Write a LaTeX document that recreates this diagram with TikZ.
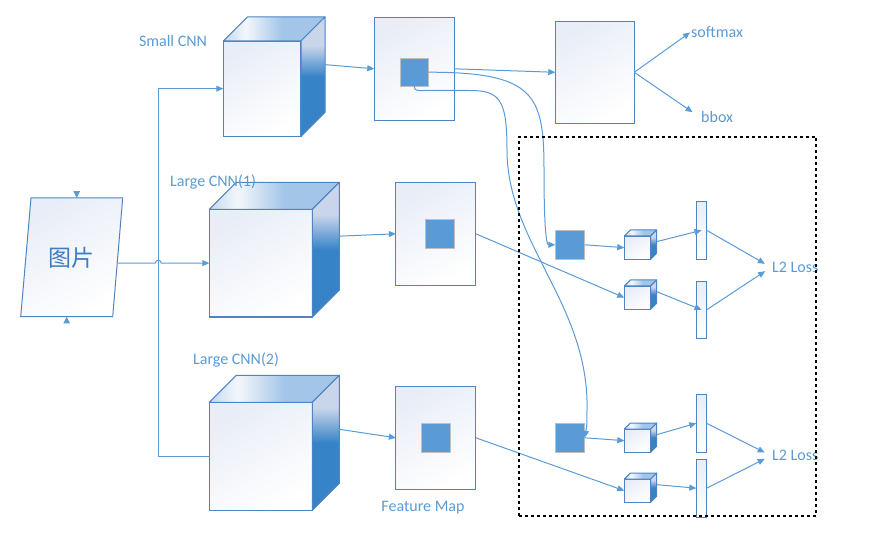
\documentclass[tikz,border=0pt]{standalone}
\usepackage{fontspec}
\setmainfont{Carlito}
\newfontfamily\cjkfont{Noto Sans CJK SC}
\usepackage{xcolor}
\usetikzlibrary{arrows.meta}

\definecolor{linecol}{HTML}{5B9BD5}
\definecolor{framecol}{HTML}{4F84C4}
\definecolor{facecol}{HTML}{E8EDF7}
\definecolor{sidedark}{HTML}{3783C8}
\definecolor{sidelight}{HTML}{C9D5EA}
\definecolor{topblue}{HTML}{A2C5E8}
\definecolor{toplight}{HTML}{F4F7FC}
\definecolor{topedge}{HTML}{C4D8EE}
\definecolor{roicol}{HTML}{5B9BD5}
\definecolor{roiedge}{HTML}{BFBFBF}
\definecolor{textcol}{HTML}{5B9BD5}
\definecolor{imgtext}{HTML}{3F7DC2}

\pgfdeclareverticalshading{cubeside}{100bp}{color(0bp)=(sidedark); color(25bp)=(sidedark); color(50bp)=(sidedark); color(63bp)=(sidelight); color(75bp)=(sidelight); color(100bp)=(sidelight)}
\pgfdeclarehorizontalshading{cubetop}{100bp}{color(0bp)=(topedge); color(25bp)=(topedge); color(36bp)=(toplight); color(54bp)=(topblue); color(75bp)=(topblue); color(100bp)=(topblue)}

% block: name, x, y (front top left), width, height, depth
\newcommand{\cnnblock}[6]{%
  \node[cubefront, minimum width=#4pt, minimum height=#5pt, anchor=north west] (#1) at (#2,#3) {};
  \shade[shading=cubetop, draw=framecol, line width=1pt, line join=round] (#1.north west) -- ++(#6,-#6) -- ++(#4,0) -- (#1.north east) -- cycle;
  \shade[shading=cubeside, draw=framecol, line width=1pt, line join=round] (#1.north east) -- ++(#6,-#6) -- ++(0,#5) -- (#1.south east) -- cycle;
  \path (#1.east) ++(#6,-#6) coordinate (#1 back);
}

\begin{document}
\begin{tikzpicture}[x=1pt,y=-1pt]
	\tikzstyle{cubefront}=[draw=framecol, line width=1.1pt, top color=facecol, bottom color=white, shading angle=30, inner sep=0pt, outer sep=0pt]
	\tikzstyle{fmap}=[draw=framecol, line width=1.1pt, top color=facecol, bottom color=white, shading angle=30, inner sep=0pt, outer sep=0pt, minimum width=80pt, minimum height=103pt]
	\tikzstyle{roi}=[draw=roiedge, line width=1.1pt, fill=roicol, minimum size=28pt, inner sep=0pt, outer sep=0pt]
	\tikzstyle{fcbar}=[draw=framecol, line width=1.1pt, top color=facecol, bottom color=white, minimum width=10.4pt, minimum height=58pt, inner sep=0pt, outer sep=0pt]
	\tikzstyle{lbl}=[text=textcol, font=\fontsize{16}{19}\selectfont, inner sep=1pt]
	\tikzstyle{conn}=[draw=linecol, line width=1pt, -{Triangle[length=7pt,width=6pt]}]

	\useasboundingbox (0,0) rectangle (881,545);

	% input image
	\shade[draw=framecol, line width=1pt, top color=facecol, bottom color=white, shading angle=30]
	      (31,198) -- (122.7,198) -- (112.7,316.7) -- (20.7,316.7) -- cycle;
	\node[minimum width=92pt, minimum height=118.7pt, inner sep=0pt, outer sep=0pt,
	      text=imgtext, font=\cjkfont\fontsize{23}{26}\selectfont] (img) at (71.7,257.3) {图片};
	\fill[linecol] ([xshift=5pt]img.north) -- ++(-3.3,-6.7) -- ++(6.6,0) -- cycle;
	\fill[linecol] ([xshift=-5pt]img.south) -- ++(-3.3,6.7) -- ++(6.6,0) -- cycle;

	% feature maps
	\node[fmap] (f1) at (414.3,68.8) {};
	\node[fmap] (f2) at (435.9,233.8) {};
	\node[fmap] (f3) at (435.9,437.8) {};
	\node[fmap, minimum width=79pt, minimum height=102pt] (fc) at (594.8,72.3) {};

	\node[roi] (r1) at (414.3,72.2) {};
	\node[roi, minimum size=29pt] (r2) at (440,233.8) {};
	\node[roi, minimum size=29pt] (r3) at (436.2,437.8) {};
	\node[roi, minimum size=29.4pt] (r4) at (570,244.8) {};
	\node[roi, minimum size=29.4pt] (r5) at (570,437.8) {};

	% networks
	\cnnblock{c1}{223.3}{41}{77.7}{95.3}{24}
	\cnnblock{c2}{209.3}{209.3}{103}{107.7}{27}
	\cnnblock{c3}{209.3}{402.3}{103}{108}{27}
	\cnnblock{sa}{624.3}{236}{26.4}{23.3}{6}
	\cnnblock{sb}{624.3}{286}{26.4}{23.3}{6}
	\cnnblock{sc}{624.3}{429}{26.4}{23.3}{6}
	\cnnblock{sd}{624.3}{479}{26.4}{23.3}{6}

	\node[fcbar] (b1) at (701.5,230.3) {};
	\node[fcbar, minimum height=57pt] (b2) at (701.5,309.8) {};
	\node[fcbar] (b3) at (701.5,423.3) {};
	\node[fcbar, minimum height=57.7pt] (b4) at (701.5,488.2) {};

	\node[lbl] (lsmall) at (173,41) {Small CNN};
	\node[lbl] (llarge1) at (213,182) {Large CNN(1)};
	\node[lbl] (llarge2) at (236,360) {Large CNN(2)};
	\node[lbl] (lfmap) at (423,508) {Feature Map};
	\node[lbl, anchor=west] (sm) at (690,32.5) {softmax};
	\node[lbl, anchor=west] (bb) at (700,117.3) {bbox};
	\node[lbl, anchor=west] (loss1) at (771,267.3) {L2 Loss};
	\node[lbl, anchor=west] (loss2) at (771,455.7) {L2 Loss};

	% links
	\draw[conn] (c3.west) -- ++(-51,0) |- (c1.west);
	\draw[conn] (img.east |- c2.west) -- ([xshift=-54pt]c2.west) arc[start angle=180, end angle=360, radius=3] -- (c2.west);

	\draw[conn] (c1 back) -- (f1.west);
	\draw[conn] (c2 back) -- (f2.west);
	\draw[conn] (c3 back) -- (f3.west);
	\draw[conn] (f1.east) -- (fc.west);
	\draw[conn] (fc.east) -- (sm.west);
	\draw[conn, shorten >=9pt] (fc.east) -- (bb.west);

	\draw[conn] (r1.east) .. controls (535,72.2) and (544,95) .. (544,170) .. controls (544,236) and (547,244.8) .. (r4.west);
	\draw[conn] (r1.south) .. controls (414.3,91) and (417,90.5) .. (425,90.5) -- (470,90.5)
	            .. controls (500,90.5) and (507,100) .. (507,150)
	            .. controls (507,240) and (584,300) .. (587,400)
	            .. controls (587,425) .. (r5.east);

	\draw[conn] (r4.east) -- (sa.west);
	\draw[conn] (r5.east) -- (sc.west);
	\draw[conn] (f2.east) -- (sb.west);
	\draw[conn] (f3.east) -- (sd.west);
	\draw[conn] (sa back) -- (b1.center);
	\draw[conn] (sb back) -- (b2.center);
	\draw[conn] (sc back) -- (b3.west);
	\draw[conn] (sd back) -- (b4.west);

	\draw[conn, shorten >=7pt] (b1.east) -- (loss1.west);
	\draw[conn, shorten >=7pt] (b2.east) -- (loss1.west);
	\draw[conn, shorten >=7pt] (b3.east) -- (loss2.west);
	\draw[conn, shorten >=7pt] (b4.east) -- (loss2.west);

	% roi part
	\node[draw=black, line width=2pt, dash pattern=on 3pt off 3pt, minimum width=297pt, minimum height=379.6pt, inner sep=0pt] (roiframe) at (667.5,326.5) {};
\end{tikzpicture}
\end{document}
